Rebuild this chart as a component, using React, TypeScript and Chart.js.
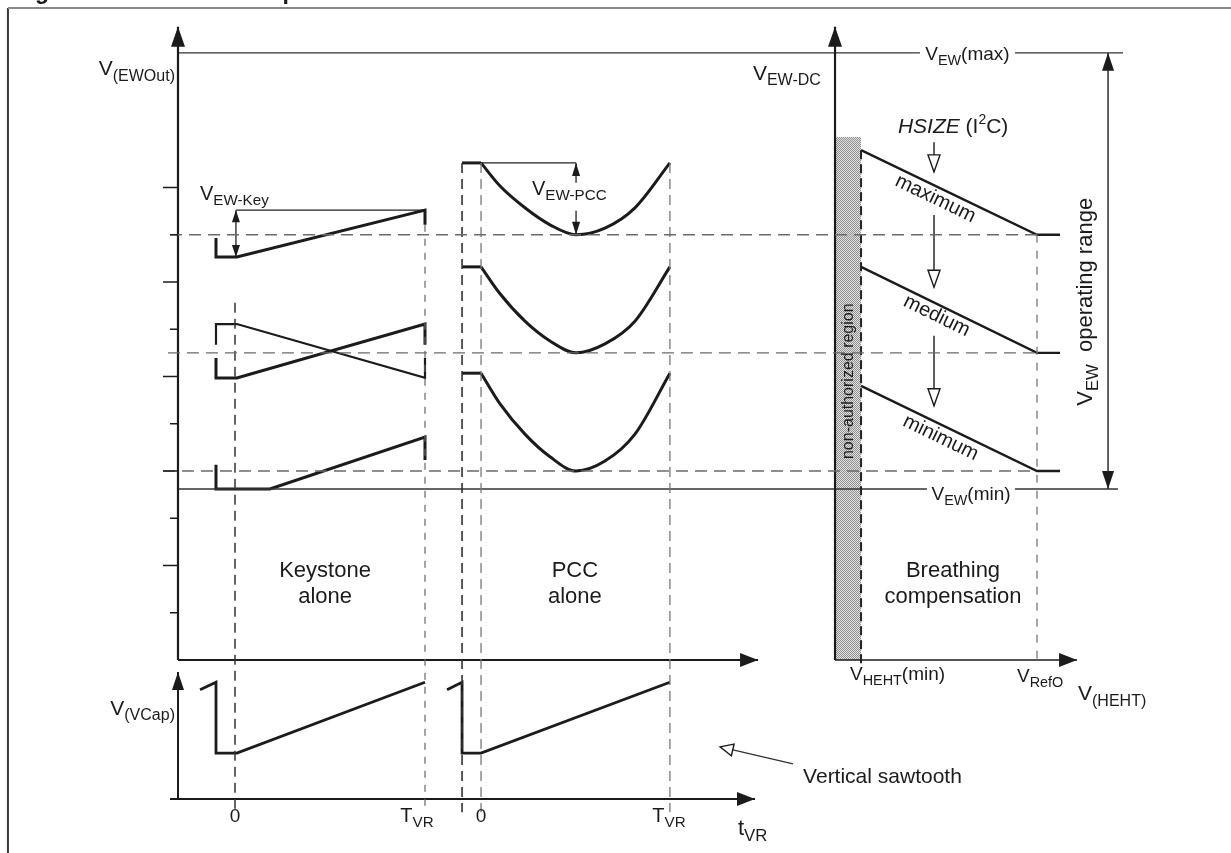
import React, { useEffect, useRef } from "react";
import { Chart, registerables } from "chart.js";

Chart.register(...registerables);

const W = 1231;
const H = 853;
const INK = "#1b1b1b";
const FONT = '"Liberation Sans", Arial, sans-serif';

// Coordinate frame: x = time in tenths of T_VR (keystone t=0 at 0, T_VR = 10),
// y = V(EWOut) in axis-tick units (main time axis at 0).
const X_MIN = -12.368, X_MAX = 52.421;
const Y_MIN = -4.085, Y_MAX = 13.968;

// Axes / panel anchors
const MAIN_AXIS_X = -3.0;
const AXIS_TOP = 13.4;
const MAIN_X_END = 27.53;
const BR_AXIS_X = 31.58;
const BR_X_END = 44.32;
const CAP_AXIS_Y = -2.942;
const CAP_TOP = -0.254;
const CAP_X_START = -3.42;
const CAP_X_END = 27.37;

// Time marks
const T0_KEY = 0, TVR_KEY = 10;
const T_PRE_PCC = 11.95, T0_PCC = 12.95, TVR_PCC = 22.89;
const DASH_BOTTOM = -3.22;

// V(EWOut) axis ticks (even ticks are long)
const yTicks = [1, 2, 3, 4, 5, 6, 7, 8, 9, 10];

// Reference levels
const vewMax = 12.85;
const vewMin = 3.62;
const levels = [9.0, 6.5, 4.0];
const levelStarts = [-3.42, -3.53, -3.79];
const maxLabelGap = [36.05, 41.05];
const minLabelGap = [36.42, 41.05];
const maxLineEnd = 46.74;
const minLineEnd = 46.47;
const rangeArrowX = 45.95;

// Keystone alone
const keyTop = [[-1, 8.93], [-1, 8.53], [0.1, 8.53], [10, 9.52], [10, 9.21]];
const keyFall = [[-1, 6.67], [-1, 7.11], [0.1, 7.11], [10, 5.97], [10, 6.39]];
const keyRise = [[-1, 6.39], [-1, 5.97], [0.1, 5.97], [10, 7.11], [10, 6.67]];
const keyLow = [[-1, 4.13], [-1, 3.62], [1.84, 3.62], [10, 4.72], [10, 4.23]];
const keyRefY = 9.52;
const keyArrowX = 0.05;
const keyArrowLow = 8.53;

// PCC alone
const pccT = [12.95, 13.95, 15.26, 16.58, 17.95, 19.47, 21.05, 22.89];
const pccMax = [10.52, 10.03, 9.57, 9.21, 9.0, 9.14, 9.57, 10.52];
const pccMid = [8.32, 7.75, 7.17, 6.75, 6.5, 6.69, 7.17, 8.32];
const pccMin = [6.07, 5.42, 4.78, 4.3, 4.0, 4.21, 4.78, 6.07];
const pccArrowGap = [10.1, 9.51];

// Breathing compensation
const hehtX = [32.95, 42.21, 43.42];
const breathMax = [10.79, 9.0, 9.0];
const breathMed = [8.32, 6.5, 6.5];
const breathMin = [5.8, 4.0, 4.0];
const shadeX = [31.58, 32.95];
const shadeTop = 11.07;
const hsizeArrowX = 36.79;
const hsizeArrows = [[10.96, 10.33], [9.42, 7.89], [6.86, 5.38]];
const hehtDashBottom = -0.11;

// Vertical sawtooth (V_VCap)
const saw1 = [[-1.84, -0.63], [-1, -0.47], [-1, -1.97], [0.1, -1.97], [10, -0.47]];
const saw2 = [[11.16, -0.63], [11.95, -0.47], [11.95, -1.97], [12.95, -1.97], [22.89, -0.47]];
const sawPointer = [[29.37, -2.2], [25.53, -1.84]];

// Frame
const frameX = -11.95;
const frameY = 13.8;

type P = { x: number; y: number };
const pts = (a: number[][]): P[] => a.map(([x, y]) => ({ x, y }));
const seg = (x1: number, y1: number, x2: number, y2: number): P[] => [
  { x: x1, y: y1 },
  { x: x2, y: y2 },
];
const zip = (xs: number[], ys: number[]): P[] => xs.map((x, i) => ({ x, y: ys[i] }));

type Line = { d: P[]; w: number; c: string; dash?: number[]; smooth?: boolean };

function buildLines(): Line[] {
  const L: Line[] = [];
  const add = (d: P[], w: number, c = INK, dash?: number[], smooth?: boolean) =>
    L.push({ d, w, c, dash, smooth });

  // dashed reference levels
  levels.forEach((lv, i) => add(seg(levelStarts[i], lv, hehtX[1], lv), 1.3, "#6a6a6a", [12, 7]));
  // dashed time markers
  add(seg(T0_KEY, 7.56, T0_KEY, DASH_BOTTOM), 1.5, "#333", [10, 6]);
  add(seg(TVR_KEY, 9.21, TVR_KEY, DASH_BOTTOM), 1.2, "#666", [7, 7]);
  add(seg(T_PRE_PCC, pccMax[0], T_PRE_PCC, DASH_BOTTOM), 1.6, "#333", [10, 6]);
  add(seg(T0_PCC, pccMax[0], T0_PCC, DASH_BOTTOM), 1.3, "#777", [10, 6]);
  add(seg(TVR_PCC, pccMax[0], TVR_PCC, DASH_BOTTOM), 1.3, "#777", [10, 6]);
  add(seg(hehtX[0], breathMax[0], hehtX[0], hehtDashBottom), 2, "#222", [9, 5]);
  add(seg(hehtX[1], breathMax[1], hehtX[1], hehtDashBottom), 1.3, "#777", [8, 8]);

  // axes
  add(seg(MAIN_AXIS_X, 0, MAIN_AXIS_X, AXIS_TOP), 2.2);
  add(seg(MAIN_AXIS_X, 0, MAIN_X_END, 0), 2.2);
  add(seg(BR_AXIS_X, 0, BR_AXIS_X, AXIS_TOP), 2.2);
  add(seg(BR_AXIS_X, 0, BR_X_END, 0), 1.6);
  add(seg(MAIN_AXIS_X, CAP_AXIS_Y, MAIN_AXIS_X, CAP_TOP), 2);
  add(seg(CAP_X_START, CAP_AXIS_Y, CAP_X_END, CAP_AXIS_Y), 2);

  // V_EW(max) / V_EW(min)
  add(seg(MAIN_AXIS_X, vewMax, maxLabelGap[0], vewMax), 1.4, "#333");
  add(seg(maxLabelGap[1], vewMax, maxLineEnd, vewMax), 1.4, "#333");
  add(seg(MAIN_AXIS_X, vewMin, minLabelGap[0], vewMin), 1.4, "#333");
  add(seg(minLabelGap[1], vewMin, minLineEnd, vewMin), 1.4, "#333");
  add(seg(rangeArrowX, vewMax, rangeArrowX, vewMin), 1.4, "#222");

  // keystone
  add(pts(keyTop), 3);
  add(pts(keyFall), 2.2);
  add(pts(keyRise), 3);
  add(pts(keyLow), 3);
  add(seg(keyArrowX, keyRefY, TVR_KEY, keyRefY), 1.3, "#222");
  add(seg(keyArrowX, keyRefY, keyArrowX, keyArrowLow), 1.3, "#222");

  // PCC
  [pccMax, pccMid, pccMin].forEach((ys) => {
    add(seg(T_PRE_PCC, ys[0], T0_PCC, ys[0]), 3);
    add(zip(pccT, ys), 3, INK, undefined, true);
  });
  add(seg(T0_PCC, pccMax[0], pccT[4], pccMax[0]), 1.3, "#222");
  add(seg(pccT[4], pccMax[0], pccT[4], pccArrowGap[0]), 1.3, "#222");
  add(seg(pccT[4], pccArrowGap[1], pccT[4], pccMax[4]), 1.3, "#222");

  // breathing
  [breathMax, breathMed, breathMin].forEach((ys) => add(zip(hehtX, ys), 2.4));
  hsizeArrows.forEach(([a, b]) => add(seg(hsizeArrowX, a, hsizeArrowX, b), 1.4));

  // sawtooth
  add(pts(saw1), 2.8);
  add(pts(saw2), 2.8);
  add(pts(sawPointer), 1.3, "#333");

  // frame
  add(seg(frameX, frameY, X_MAX, frameY), 2, "#8a8a8a");
  add(seg(frameX, frameY, frameX, Y_MIN), 2, "#3a3a3a");
  return L;
}

type Arrow = { tip: P; from: P; len: number; half: number; hollow?: boolean };
const arrows: Arrow[] = [
  { tip: { x: MAIN_AXIS_X, y: AXIS_TOP }, from: { x: MAIN_AXIS_X, y: 0 }, len: 20, half: 7 },
  { tip: { x: BR_AXIS_X, y: AXIS_TOP }, from: { x: BR_AXIS_X, y: 0 }, len: 20, half: 7 },
  { tip: { x: MAIN_X_END, y: 0 }, from: { x: 0, y: 0 }, len: 18, half: 7 },
  { tip: { x: BR_X_END, y: 0 }, from: { x: BR_AXIS_X, y: 0 }, len: 18, half: 7 },
  { tip: { x: MAIN_AXIS_X, y: CAP_TOP }, from: { x: MAIN_AXIS_X, y: CAP_AXIS_Y }, len: 18, half: 6 },
  { tip: { x: CAP_X_END, y: CAP_AXIS_Y }, from: { x: 0, y: CAP_AXIS_Y }, len: 18, half: 7 },
  { tip: { x: rangeArrowX, y: vewMax }, from: { x: rangeArrowX, y: vewMin }, len: 18, half: 6 },
  { tip: { x: rangeArrowX, y: vewMin }, from: { x: rangeArrowX, y: vewMax }, len: 18, half: 6 },
  { tip: { x: keyArrowX, y: keyRefY }, from: { x: keyArrowX, y: keyArrowLow }, len: 12, half: 4 },
  { tip: { x: keyArrowX, y: keyArrowLow }, from: { x: keyArrowX, y: keyRefY }, len: 12, half: 4 },
  { tip: { x: pccT[4], y: pccMax[0] }, from: { x: pccT[4], y: pccMax[4] }, len: 13, half: 4 },
  { tip: { x: pccT[4], y: pccMax[4] }, from: { x: pccT[4], y: pccMax[0] }, len: 13, half: 4 },
  ...hsizeArrows.map(([a, b]) => ({
    tip: { x: hsizeArrowX, y: b },
    from: { x: hsizeArrowX, y: a },
    len: 17,
    half: 6,
    hollow: true,
  })),
  {
    tip: { x: sawPointer[1][0], y: sawPointer[1][1] },
    from: { x: sawPointer[0][0], y: sawPointer[0][1] },
    len: 13,
    half: 6,
    hollow: true,
  },
];

type Run = { t: string; sub?: boolean; sup?: boolean; it?: boolean };
type Label = {
  x: number;
  y: number;
  size: number;
  runs: Run[];
  align?: "left" | "center" | "right";
  rot?: number;
  along?: number[][];
  vcenter?: boolean;
  bold?: boolean;
  color?: string;
};

const r = (t: string): Run => ({ t });
const sb = (t: string): Run => ({ t, sub: true });

const labels: Label[] = [
  { x: -11.6, y: 13.99, size: 23, runs: [r("Figure 14. East-West output waveforms")], bold: true },
  { x: -3.16, y: 12.38, size: 21, align: "right", runs: [r("V"), sb("(EWOut)")] },
  { x: -1.84, y: 9.74, size: 20, runs: [r("V"), sb("EW-Key")] },
  { x: 15.63, y: 9.84, size: 20, runs: [r("V"), sb("EW-PCC")] },
  { x: 27.26, y: 12.28, size: 21, runs: [r("V"), sb("EW-DC")] },
  { x: 38.55, y: 12.7, size: 19, align: "center", runs: [r("V"), sb("EW"), r("(max)")] },
  { x: 38.74, y: 3.39, size: 19, align: "center", runs: [r("V"), sb("EW"), r("(min)")] },
  { x: 34.89, y: 11.15, size: 21, runs: [{ t: "HSIZE", it: true }, r(" (I"), { t: "2", sup: true }, r("C)")] },
  { x: 36.89, y: 9.78, size: 20, align: "center", vcenter: true, along: [[hehtX[0], breathMax[0]], [hehtX[1], breathMax[1]]], runs: [r("maximum")] },
  { x: 36.95, y: 7.3, size: 20, align: "center", vcenter: true, along: [[hehtX[0], breathMed[0]], [hehtX[1], breathMed[1]]], runs: [r("medium")] },
  { x: 37.16, y: 4.72, size: 20, align: "center", vcenter: true, along: [[hehtX[0], breathMin[0]], [hehtX[1], breathMin[1]]], runs: [r("minimum")] },
  { x: 32.26, y: 5.9, size: 16, align: "center", vcenter: true, rot: -Math.PI / 2, runs: [r("non-authorized region")] },
  { x: 44.74, y: 7.58, size: 22, align: "center", vcenter: true, rot: -Math.PI / 2, runs: [r("V"), sb("EW"), r("  operating range")] },
  { x: 4.74, y: 1.76, size: 22, align: "center", runs: [r("Keystone")] },
  { x: 4.74, y: 1.21, size: 22, align: "center", runs: [r("alone")] },
  { x: 17.89, y: 1.76, size: 22, align: "center", runs: [r("PCC")] },
  { x: 17.89, y: 1.21, size: 22, align: "center", runs: [r("alone")] },
  { x: 37.79, y: 1.76, size: 22, align: "center", runs: [r("Breathing")] },
  { x: 37.79, y: 1.21, size: 22, align: "center", runs: [r("compensation")] },
  { x: -3.16, y: -1.16, size: 21, align: "right", runs: [r("V"), sb("(VCap)")] },
  { x: T0_KEY, y: -3.43, size: 19, align: "center", runs: [r("0")] },
  { x: 9.58, y: -3.43, size: 20, align: "center", runs: [r("T"), sb("VR")] },
  { x: T0_PCC, y: -3.43, size: 19, align: "center", runs: [r("0")] },
  { x: 22.84, y: -3.43, size: 20, align: "center", runs: [r("T"), sb("VR")] },
  { x: 26.47, y: -3.7, size: 22, runs: [r("t"), sb("VR")] },
  { x: 32.37, y: -0.42, size: 19, runs: [r("V"), sb("HEHT"), r("(min)")] },
  { x: 41.16, y: -0.47, size: 19, runs: [r("V"), sb("RefO")] },
  { x: 44.37, y: -0.85, size: 21, runs: [r("V"), sb("(HEHT)")] },
  { x: 29.9, y: -2.6, size: 21, runs: [r("Vertical sawtooth")] },
];

function runFont(run: Run, size: number, bold?: boolean) {
  const s = run.sub ? size * 0.76 : run.sup ? size * 0.66 : size;
  return { font: `${run.it ? "italic " : ""}${bold ? "bold " : ""}${s.toFixed(1)}px ${FONT}`, dy: run.sub ? size * 0.27 : run.sup ? -size * 0.42 : 0 };
}

let patternCache: CanvasPattern | null = null;
function getPattern(ctx: CanvasRenderingContext2D) {
  if (patternCache) return patternCache;
  const pc = document.createElement("canvas");
  pc.width = 2;
  pc.height = 2;
  const g = pc.getContext("2d")!;
  g.fillStyle = "#e2e2e2";
  g.fillRect(0, 0, 2, 2);
  g.fillStyle = "#8f8f8f";
  g.fillRect(0, 0, 1, 1);
  g.fillRect(1, 1, 1, 1);
  patternCache = ctx.createPattern(pc, "repeat");
  return patternCache;
}

const diagramPlugin = {
  id: "diagram",
  beforeDatasetsDraw(chart: any) {
    const ctx: CanvasRenderingContext2D = chart.ctx;
    const X = (v: number) => chart.scales.x.getPixelForValue(v);
    const Y = (v: number) => chart.scales.y.getPixelForValue(v);
    ctx.save();
    const pat = getPattern(ctx);
    if (pat) ctx.fillStyle = pat;
    ctx.fillRect(X(shadeX[0]), Y(shadeTop), X(shadeX[1]) - X(shadeX[0]), Y(0) - Y(shadeTop));
    ctx.restore();
  },
  afterDatasetsDraw(chart: any) {
    const ctx: CanvasRenderingContext2D = chart.ctx;
    const X = (v: number) => chart.scales.x.getPixelForValue(v);
    const Y = (v: number) => chart.scales.y.getPixelForValue(v);
    ctx.save();
    // ticks on V(EWOut) axis
    ctx.strokeStyle = INK;
    ctx.lineWidth = 1.5;
    yTicks.forEach((v) => {
      const start = v % 2 === 0 ? -3.79 : -3.42;
      ctx.beginPath();
      ctx.moveTo(X(start), Y(v));
      ctx.lineTo(X(MAIN_AXIS_X), Y(v));
      ctx.stroke();
    });
    // arrowheads
    arrows.forEach((a) => {
      const tx = X(a.tip.x), ty = Y(a.tip.y);
      const fx = X(a.from.x), fy = Y(a.from.y);
      let ux = tx - fx, uy = ty - fy;
      const n = Math.hypot(ux, uy) || 1;
      ux /= n;
      uy /= n;
      const bx = tx - ux * a.len, by = ty - uy * a.len;
      const px = -uy, py = ux;
      ctx.beginPath();
      ctx.moveTo(tx, ty);
      ctx.lineTo(bx + px * a.half, by + py * a.half);
      ctx.lineTo(bx - px * a.half, by - py * a.half);
      ctx.closePath();
      if (a.hollow) {
        ctx.fillStyle = "#fff";
        ctx.fill();
        ctx.lineWidth = 1.4;
        ctx.strokeStyle = INK;
        ctx.stroke();
      } else {
        ctx.fillStyle = INK;
        ctx.fill();
      }
    });
    // labels
    labels.forEach((lb) => {
      ctx.save();
      ctx.fillStyle = lb.color || INK;
      ctx.textBaseline = "alphabetic";
      ctx.textAlign = "left";
      let rot = lb.rot || 0;
      if (lb.along) {
        const [[x1, y1], [x2, y2]] = lb.along;
        rot = Math.atan2(Y(y2) - Y(y1), X(x2) - X(x1));
      }
      ctx.translate(X(lb.x), Y(lb.y));
      ctx.rotate(rot);
      let total = 0;
      lb.runs.forEach((run) => {
        ctx.font = runFont(run, lb.size, lb.bold).font;
        total += ctx.measureText(run.t).width;
      });
      let x = lb.align === "center" ? -total / 2 : lb.align === "right" ? -total : 0;
      const dy0 = lb.vcenter ? lb.size * 0.33 : 0;
      lb.runs.forEach((run) => {
        const f = runFont(run, lb.size, lb.bold);
        ctx.font = f.font;
        ctx.fillText(run.t, x, f.dy + dy0);
        x += ctx.measureText(run.t).width;
      });
      ctx.restore();
    });
    ctx.restore();
  },
};

export default function App() {
  const ref = useRef<HTMLCanvasElement | null>(null);
  useEffect(() => {
    if (!ref.current) return;
    const lines = buildLines();
    const chart = new Chart(ref.current, {
      type: "scatter",
      data: {
        datasets: lines.map((l) => ({
          data: l.d,
          showLine: true,
          borderColor: l.c,
          backgroundColor: l.c,
          borderWidth: l.w,
          borderDash: l.dash || [],
          pointRadius: 0,
          pointHoverRadius: 0,
          fill: false,
          tension: 0,
          cubicInterpolationMode: l.smooth ? "monotone" : "default",
          borderJoinStyle: "miter",
          borderCapStyle: "butt",
          clip: false,
        })) as any,
      },
      options: {
        responsive: false,
        maintainAspectRatio: false,
        animation: false,
        events: [],
        layout: { padding: 0 },
        plugins: { legend: { display: false }, tooltip: { enabled: false } },
        scales: {
          x: { type: "linear", min: X_MIN, max: X_MAX, display: false },
          y: { type: "linear", min: Y_MIN, max: Y_MAX, display: false },
        },
      },
      plugins: [diagramPlugin as any],
    });
    return () => chart.destroy();
  }, []);
  return (
    <div style={{ position: "absolute", left: 0, top: 0, width: W, height: H, background: "#fff" }}>
      <canvas ref={ref} width={W} height={H} style={{ display: "block", width: W, height: H }} />
    </div>
  );
}
